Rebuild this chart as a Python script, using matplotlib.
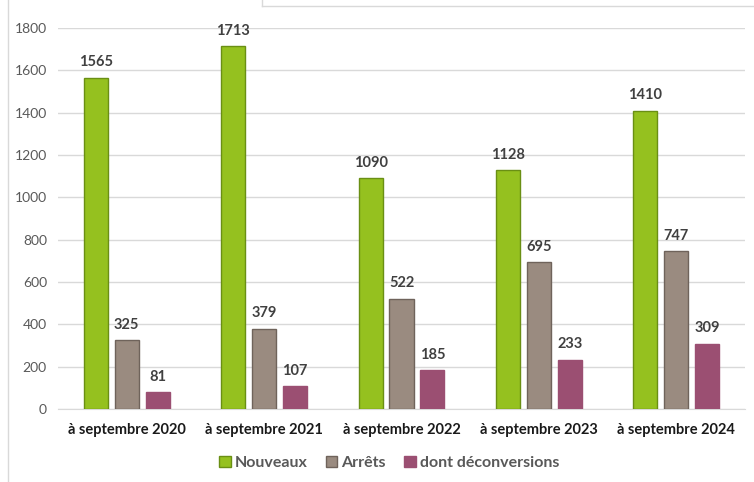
import matplotlib
matplotlib.use("Agg")
import matplotlib.pyplot as plt
from matplotlib.lines import Line2D
from matplotlib.patches import Patch
import numpy as np

categories = ["à septembre 2020", "à septembre 2021", "à septembre 2022",
              "à septembre 2023", "à septembre 2024"]
nouveaux = [1565, 1713, 1090, 1128, 1410]
arrets = [325, 379, 522, 695, 747]
deconversions = [81, 107, 185, 233, 309]
series_names = ["Nouveaux", "Arrêts", "dont déconversions"]
yticks = [0, 200, 400, 600, 800, 1000, 1200, 1400, 1600, 1800]

plt.rcParams['font.family'] = ['Lato', 'DejaVu Sans']

fig = plt.figure(figsize=(7.54, 4.82), dpi=100)
ax = fig.add_axes([58/754, 1-409/482, 687/754, 381/482])

x = np.arange(len(categories))
w = 0.175
step = 0.225
fills = ["#95C11F", "#9A8B80", "#9B4F72"]
edges = ["#6A8F14", "#6F635B", "#9B4F72"]
data = [nouveaux, arrets, deconversions]
for i, (vals, fc, ec) in enumerate(zip(data, fills, edges)):
    bars = ax.bar(x + (i-1)*step, vals, w, color=fc, edgecolor=ec, linewidth=1.0,
                  label=series_names[i], zorder=3)
    for b, v in zip(bars, vals):
        ax.annotate(str(v), (b.get_x()+b.get_width()/2, v), xytext=(0, 6),
                    textcoords="offset points", ha="center", va="bottom",
                    fontsize=10.5, fontweight="bold", color="#404040")

ax.set_xlim(-0.5, len(categories)-0.5)
ax.set_ylim(0, 1800)
ax.set_yticks(yticks)
ax.set_yticklabels([str(t) for t in yticks], fontsize=10, color="#595959")
ax.set_xticks(x)
ax.set_xticklabels(categories, fontsize=10.5, fontweight="bold", color="#1a1a1a")
ax.tick_params(axis="both", length=0)
ax.tick_params(axis="y", pad=8)
ax.tick_params(axis="x", pad=10)
ax.grid(axis="y", color="#D9D9D9", linewidth=1, zorder=0)
for s in ["top", "right", "left"]:
    ax.spines[s].set_visible(False)
ax.spines["bottom"].set_color("#D9D9D9")

handles = [Patch(facecolor=fills[i], edgecolor=edges[i], label=series_names[i]) for i in range(3)]
leg = fig.legend(handles=handles, loc="center", bbox_to_anchor=(389/754, 1-463/482),
                 ncol=3, frameon=False, fontsize=11.5, handlelength=0.75, handleheight=0.75,
                 columnspacing=1.1, handletextpad=0.25)
for t in leg.get_texts():
    t.set_color("#595959")
    t.set_fontweight("bold")

# frame remnants
fig.add_artist(Line2D([8/754, 8/754], [0, 1], color="#D9D9D9", linewidth=1))
fig.add_artist(Line2D([262/754, 1], [1-6/482, 1-6/482], color="#D9D9D9", linewidth=1))
fig.add_artist(Line2D([262/754, 262/754], [1-6/482, 1], color="#D9D9D9", linewidth=1))

fig.savefig("out.png", dpi=100)
